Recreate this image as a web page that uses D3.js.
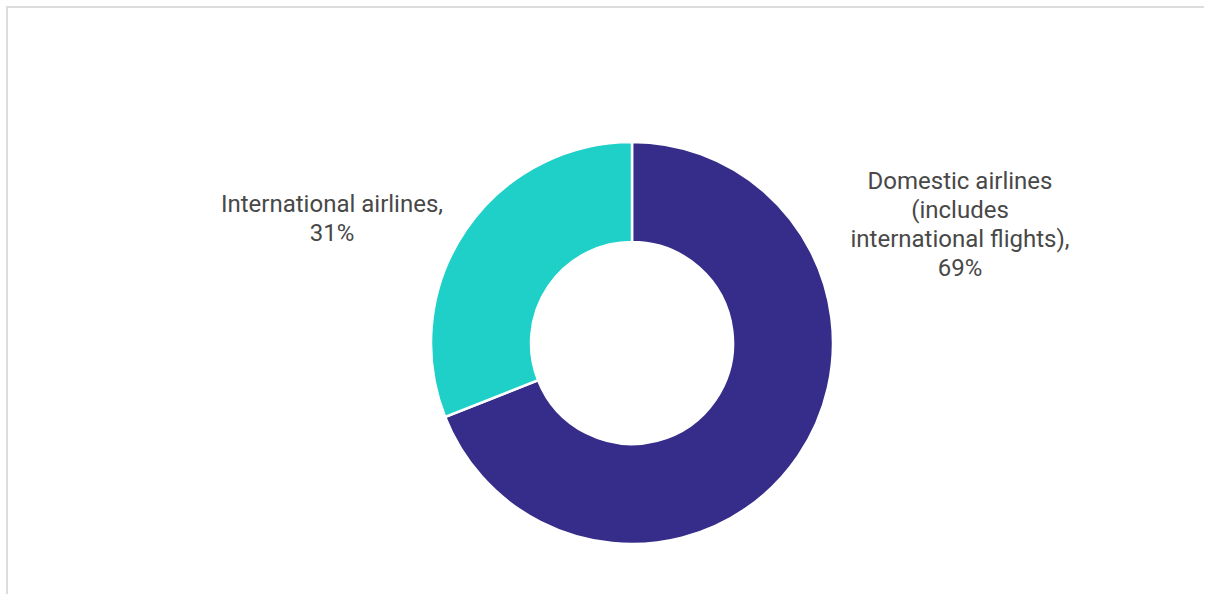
<!DOCTYPE html>
<html><head><meta charset="utf-8">
<script src="https://cdn.jsdelivr.net/npm/d3@7"></script>
<style>html,body{margin:0;padding:0;background:#fff;overflow:hidden}</style>
</head><body>
<svg id="c" width="1205" height="594"></svg>
<script>
const categories = ["Domestic airlines (includes international flights)", "International airlines"];
const values = [69, 31];
const labelLines = [["Domestic airlines", "(includes", "international flights),", "69%"], ["International airlines,", "31%"]];
const colors = ["#352d89", "#1fd0c9"];

const svg = d3.select("#c");
// frame
svg.append("path").attr("d", "M7,600 V7 H1204").attr("fill", "none").attr("stroke", "#dcdcdc").attr("stroke-width", 2);

const cx = 632, cy = 343, R = 201, r = 101;
const g = svg.append("g").attr("transform", `translate(${cx},${cy})`);
const pie = d3.pie().sort(null).value(d => d)(values);
const arc = d3.arc().innerRadius(r).outerRadius(R);
g.selectAll("path.s").data(pie).join("path").attr("class", "s")
  .attr("d", arc).attr("fill", (d, i) => colors[i])
  .attr("stroke", "#fff").attr("stroke-width", 2.5);

const labelPos = [{x: 960, y: 189, dy: 29}, {x: 332, y: 212, dy: 29}];
labelLines.forEach((lines, i) => {
  const t = svg.append("text").attr("x", labelPos[i].x).attr("y", labelPos[i].y)
    .attr("text-anchor", "middle").attr("font-family", "Roboto, sans-serif")
    .attr("font-size", 24).attr("fill", "#484848");
  lines.forEach((l, j) => t.append("tspan").attr("x", labelPos[i].x).attr("dy", j === 0 ? 0 : labelPos[i].dy).text(l));
});
</script>
</body></html>
